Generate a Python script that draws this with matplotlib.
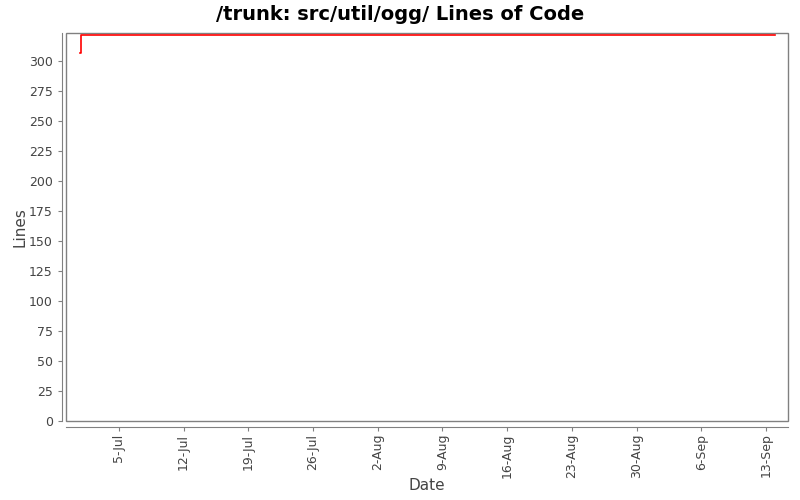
import matplotlib
matplotlib.use('Agg')
import matplotlib.pyplot as plt
import matplotlib.dates as mdates
import pandas as pd

# data
dates = pd.to_datetime(['2007-06-30 20:00', '2007-06-30 21:00', '2007-09-14 00:00'])
lines = [307, 322, 322]

tick_dates = pd.date_range('2007-07-05', '2007-09-13', freq='7D')

fig = plt.figure(figsize=(8, 5), dpi=100)
ax = fig.add_axes([0.0825, 0.158, 0.9025, 0.776])

ax.plot(dates, lines, color='red', linewidth=1.2, drawstyle='steps-post')

ax.set_xlim(pd.Timestamp('2007-06-29 07:00'), pd.Timestamp('2007-09-15 09:00'))
ax.set_ylim(0, 323.5)
ax.set_yticks(range(0, 301, 25))
ax.set_xticks(tick_dates)
ax.xaxis.set_major_formatter(mdates.DateFormatter('%-d-%b'))

ax.patch.set_edgecolor('#808080')
ax.patch.set_linewidth(1)
for s in ['top', 'right']:
    ax.spines[s].set_visible(False)
ax.spines['left'].set_position(('outward', 3))
ax.spines['bottom'].set_position(('outward', 4))
for s in ['left', 'bottom']:
    ax.spines[s].set_color('#808080')
ax.tick_params(colors='#808080', labelcolor='#444444', labelsize=9, length=3)
ax.tick_params(axis='x', labelrotation=90, pad=2)

ax.set_xlabel('Date', fontsize=11, color='#444444')
ax.set_ylabel('Lines', fontsize=11, color='#444444')
ax.xaxis.set_label_coords(0.5, -0.147)
ax.yaxis.set_label_coords(-0.053, 0.5)
fig.suptitle('/trunk: src/util/ogg/ Lines of Code', fontsize=14, fontweight='bold', y=0.99)

fig.savefig('out.png')
